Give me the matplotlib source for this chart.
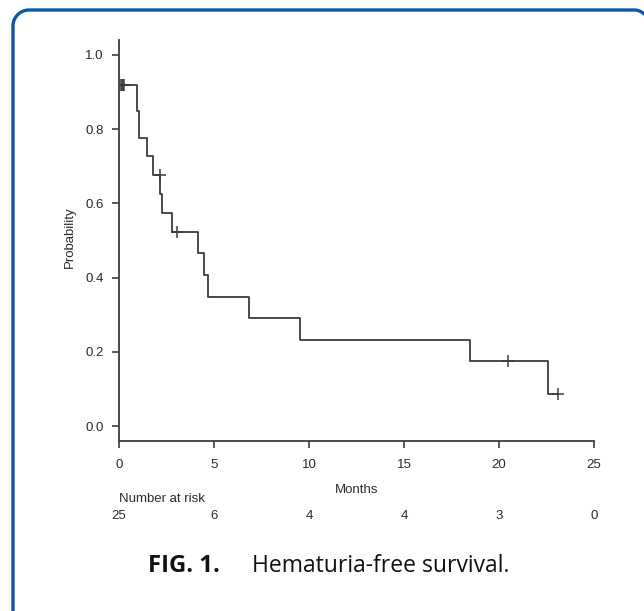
import matplotlib
matplotlib.use("Agg")
import numpy as np
import matplotlib.pyplot as plt
import matplotlib.transforms as mtransforms
from matplotlib.lines import Line2D

# ---- data ----
step_times = [0.0, 0.95, 1.03, 1.46, 1.81, 2.16, 2.25, 2.77, 4.17, 4.47, 4.70, 6.86, 9.53, 18.47, 22.60, 23.09]
step_surv = [0.92, 0.85, 0.775, 0.727, 0.676, 0.626, 0.575, 0.524, 0.466, 0.408, 0.349, 0.291, 0.233, 0.175, 0.087, 0.087]
censor_times = [0.10, 0.15, 0.20, 0.25, 2.16, 3.07, 20.45, 23.09]
censor_surv = [0.92, 0.92, 0.92, 0.92, 0.676, 0.524, 0.175, 0.087]
xticks = [0, 5, 10, 15, 20, 25]
yticks = [0.0, 0.2, 0.4, 0.6, 0.8, 1.0]
risk_times = [0, 5, 10, 15, 20, 25]
risk_counts = [25, 6, 4, 4, 3, 0]

W, H = 644, 611
plt.rcParams['font.family'] = ['Liberation Sans', 'DejaVu Sans']
fig = plt.figure(figsize=(W / 100, H / 100), dpi=100)
fig.patch.set_facecolor('white')

def fx(x):
    return x / W

def fy(y):
    return 1 - y / H

ax = fig.add_axes([fx(119), fy(441), fx(594) - fx(119), fy(40) - fy(441)])
line_col = '#3c3c3c'
text_col = '#2a2a2a'

ax.step(step_times, step_surv, where='post', color=line_col, lw=1.3)
ax.plot(censor_times, censor_surv, linestyle='none', marker='+', ms=8, mew=1.1, color=line_col)

ax.set_xlim(0, 25)
ax.set_ylim(-0.04, 1.04)
ax.set_xticks(xticks)
ax.set_yticks(yticks)
ax.set_xticklabels([str(t) for t in xticks])
ax.set_yticklabels([f"{t:.1f}" for t in yticks])
for s in ['top', 'right']:
    ax.spines[s].set_visible(False)
for s in ['left', 'bottom']:
    ax.spines[s].set_color(line_col)
    ax.spines[s].set_linewidth(1.3)
ax.tick_params(axis='both', direction='out', length=5, width=1.2, color=line_col,
               labelsize=9.5, labelcolor=text_col)
ax.tick_params(axis='x', pad=8)
ax.tick_params(axis='y', pad=6)

fig.text(fx(70), fy(237), 'Probability', rotation=90, ha='center', va='center',
         fontsize=9.5, color=text_col)
fig.text(fx(357), fy(490), 'Months', ha='center', va='center', fontsize=9.5, color=text_col)

blend = mtransforms.blended_transform_factory(ax.transData, fig.transFigure)
ax.text(0, fy(499), 'Number at risk', transform=blend, ha='left', va='center',
        fontsize=9.5, color=text_col, clip_on=False)
for t, n in zip(risk_times, risk_counts):
    ax.text(t, fy(516), str(n), transform=blend, ha='center', va='center',
            fontsize=9.5, color=text_col, clip_on=False)

# caption
fig.text(fx(148), fy(572), 'FIG. 1.', ha='left', va='baseline', fontsize=17.2,
         fontweight='bold', family='Open Sans', color='#111111')
fig.text(fx(252), fy(572), 'Hematuria-free survival.', ha='left', va='baseline', fontsize=16.5,
         family='Open Sans', color='#111111')

# rounded blue frame drawn in pixel coordinates (image y measured from top)
rl, rr = 16, 15
left, top, right = 13, 10, 649
a1 = np.linspace(np.pi, np.pi / 2, 20)
a2 = np.linspace(np.pi / 2, 0, 20)
xs = np.concatenate([[left], left + rl + rl * np.cos(a1), right - rr + rr * np.cos(a2), [right]])
ys_img = np.concatenate([[H + 20], top + rl - rl * np.sin(a1), top + rr - rr * np.sin(a2), [H + 20]])
frame = Line2D(xs, H - ys_img, color='#0b58a6', lw=2.4, solid_capstyle='butt',
               transform=mtransforms.IdentityTransform())
fig.add_artist(frame)

fig.savefig('out.png', dpi=100)
